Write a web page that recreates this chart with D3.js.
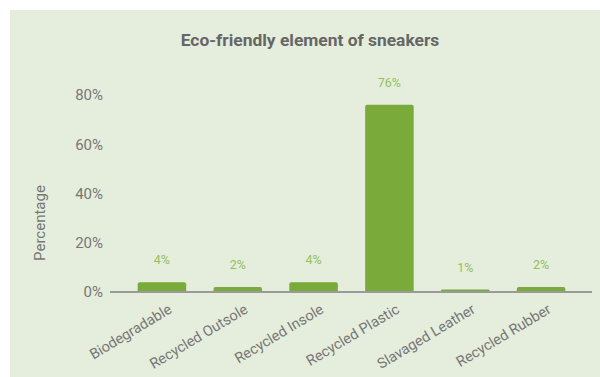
<!DOCTYPE html>
<html>
<head>
<meta charset="utf-8">
<script src="https://cdn.jsdelivr.net/npm/d3@7"></script>
<style>
  html, body { margin: 0; padding: 0; background: #ffffff; }
  svg { display: block; font-family: Roboto, "Noto Sans", sans-serif; }
</style>
</head>
<body>
<svg id="chart" width="600" height="377"></svg>
<script>
// Share of eco-friendly elements used in sneakers
const categories = ["Biodegradable", "Recycled Outsole", "Recycled Insole", "Recycled Plastic", "Slavaged Leather", "Recycled Rubber"];
const values = [4, 2, 4, 76, 1, 2];
const yTicks = [0, 20, 40, 60, 80];
const chartTitle = "Eco-friendly element of sneakers";
const yTitle = "Percentage";

const svg = d3.select("#chart");

// panel background
svg.append("rect")
  .attr("x", 10).attr("y", 10)
  .attr("width", 590).attr("height", 367)
  .attr("fill", "#e5eddc");

const x = d3.scaleBand()
  .domain(categories)
  .range([124, 579])
  .paddingInner(0.36)
  .paddingOuter(0.18);

const y = d3.scaleLinear()
  .domain([0, 80])
  .range([292, 95]);

// title
svg.append("text")
  .attr("x", 310).attr("y", 46)
  .attr("text-anchor", "middle")
  .attr("font-size", 17.4)
  .attr("font-weight", "bold")
  .attr("fill", "#666666")
  .text(chartTitle);

// y axis tick labels
const yAxis = d3.axisLeft(y)
  .tickValues(yTicks)
  .tickFormat(d => d + "%")
  .tickSize(0)
  .tickPadding(0);

const gy = svg.append("g")
  .attr("transform", "translate(103,0)")
  .call(yAxis);
gy.select(".domain").remove();
gy.selectAll("text")
  .attr("font-size", 15)
  .attr("fill", "#777777")
  .attr("font-family", "Roboto, sans-serif");

// y axis title
svg.append("text")
  .attr("transform", "translate(45,223) rotate(-90)")
  .attr("text-anchor", "middle")
  .attr("font-size", 15)
  .attr("fill", "#777777")
  .text(yTitle);

// bars
svg.append("g")
  .selectAll("path")
  .data(categories)
  .join("path")
  .attr("fill", "#7aaa3a")
  .attr("d", (c, i) => {
    const x0 = x(c), w = x.bandwidth();
    const yTop = y(values[i]), yBot = y(0);
    const r = Math.min(2, (yBot - yTop) / 2);
    return `M${x0},${yBot}V${yTop + r}Q${x0},${yTop} ${x0 + r},${yTop}` +
           `H${x0 + w - r}Q${x0 + w},${yTop} ${x0 + w},${yTop + r}V${yBot}Z`;
  });

// baseline
svg.append("line")
  .attr("x1", 110).attr("x2", 592)
  .attr("y1", y(0)).attr("y2", y(0))
  .attr("stroke", "#9a9a9a")
  .attr("stroke-width", 2);

// value labels
svg.append("g")
  .selectAll("text")
  .data(categories)
  .join("text")
  .attr("x", c => x(c) + x.bandwidth() / 2)
  .attr("y", (c, i) => y(values[i]) - 18)
  .attr("text-anchor", "middle")
  .attr("font-size", 12.5)
  .attr("fill", "#93c15c")
  .text((c, i) => values[i] + "%");

// x axis labels, rotated
const xAxis = d3.axisBottom(x).tickSize(0).tickPadding(0);
const gx = svg.append("g")
  .attr("transform", `translate(0,${y(0)})`)
  .call(xAxis);
gx.select(".domain").remove();
gx.selectAll(".tick text")
  .attr("font-size", 14.5)
  .attr("fill", "#777777")
  .attr("font-family", "Roboto, sans-serif")
  .attr("text-anchor", "end")
  .attr("dy", null)
  .attr("y", 0)
  .attr("transform", "translate(11,20) rotate(-31)");
</script>
</body>
</html>
